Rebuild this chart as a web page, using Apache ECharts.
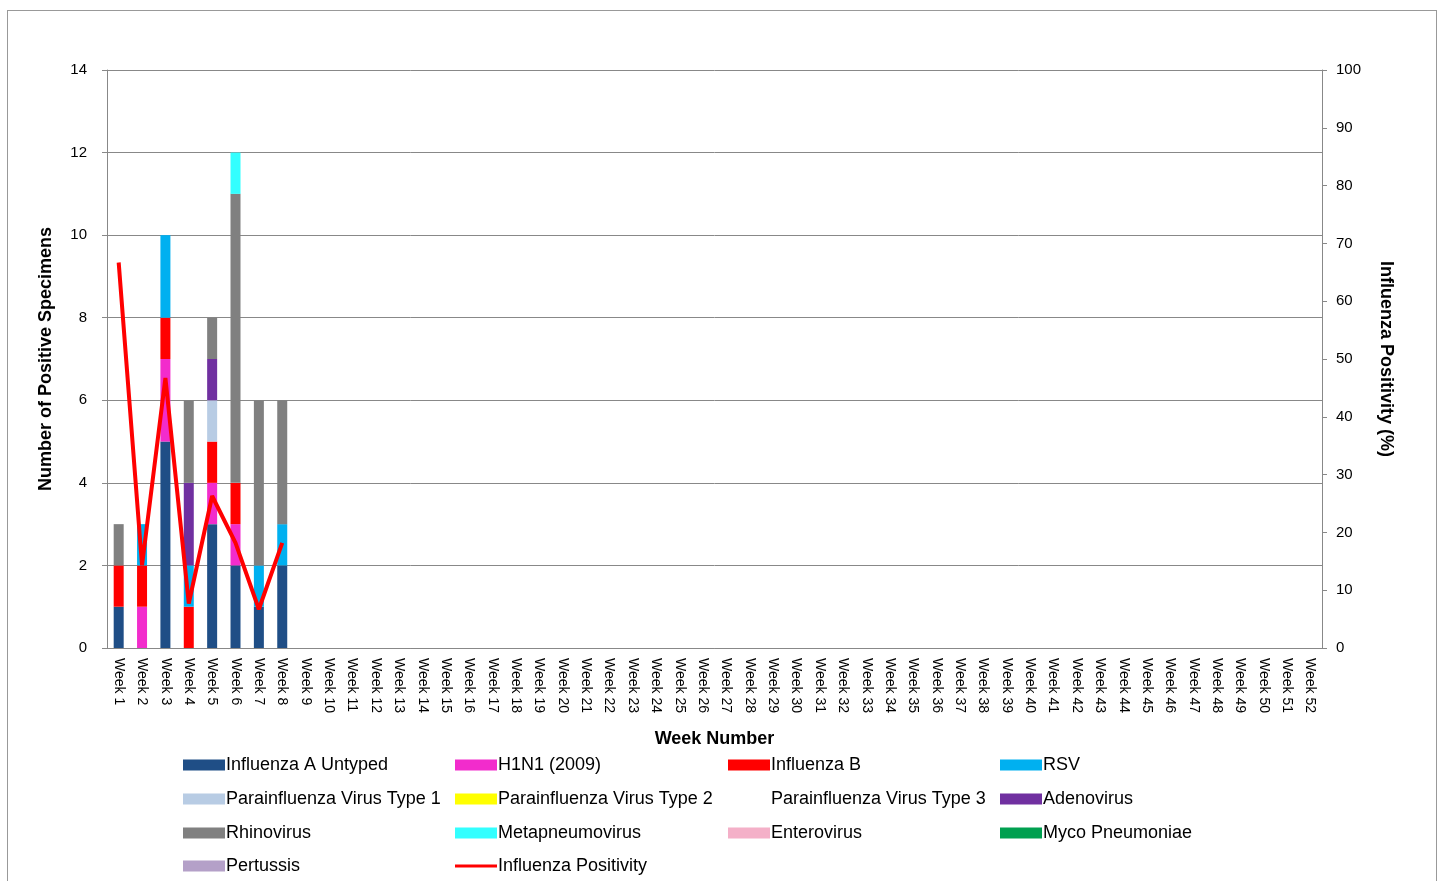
<!DOCTYPE html>
<html><head><meta charset="utf-8">
<script src="https://cdn.jsdelivr.net/npm/echarts@6/dist/echarts.min.js"></script>
<style>html,body{margin:0;padding:0;background:#fff}#main{width:1441px;height:881px}
#frame{position:absolute;left:7px;top:10px;width:1430px;height:880px;border:1px solid #999;box-sizing:border-box;pointer-events:none}</style>
</head><body><div id="main"></div><div id="frame"></div>
<script>
const weeks = Array.from({length: 52}, (_, i) => 'Week ' + (i + 1))
const fluA = [1, 0, 5, 0, 3, 2, 1, 2]
const h1n1 = [0, 1, 2, 0, 1, 1, 0, 0]
const fluB = [1, 1, 1, 1, 1, 1, 0, 0]
const rsv = [0, 1, 2, 1, 0, 0, 1, 1]
const para1 = [0, 0, 0, 0, 1, 0, 0, 0]
const para2 = [0, 0, 0, 0, 0, 0, 0, 0]
const para3 = [0, 0, 0, 0, 0, 0, 0, 0]
const adeno = [0, 0, 0, 2, 1, 0, 0, 0]
const rhino = [1, 0, 0, 2, 1, 7, 4, 3]
const metap = [0, 0, 0, 0, 0, 1, 0, 0]
const entero = [0, 0, 0, 0, 0, 0, 0, 0]
const myco = [0, 0, 0, 0, 0, 0, 0, 0]
const pertussis = [0, 0, 0, 0, 0, 0, 0, 0]
const positivity = [66.7, 14.3, 46.7, 7.7, 26.3, 18.2, 6.7, 18.2]

const bars = [
  ['Influenza A Untyped', fluA, '#1f4e86'],
  ['H1N1 (2009)', h1n1, '#f22ccc'],
  ['Influenza B', fluB, '#ff0000'],
  ['RSV', rsv, '#00b0f0'],
  ['Parainfluenza Virus Type 1', para1, '#b8cce4'],
  ['Parainfluenza Virus Type 2', para2, '#ffff00'],
  ['Parainfluenza Virus Type 3', para3, '#ffffff'],
  ['Adenovirus', adeno, '#7030a0'],
  ['Rhinovirus', rhino, '#808080'],
  ['Metapneumovirus', metap, '#33ffff'],
  ['Enterovirus', entero, '#f4b0c8'],
  ['Myco Pneumoniae', myco, '#00a050'],
  ['Pertussis', pertussis, '#b4a0c8']
]
const legendNames = bars.map(b => b[0]).concat(['Influenza Positivity'])
const colX = [183, 455, 728, 1000]
const rowY = [756, 790, 824, 857]
const font = 'Liberation Sans, Arial, sans-serif'

let myChart = echarts.init(document.getElementById('main'))
let option = {
  animation: false,
  textStyle: {fontFamily: font},
  grid: {left: 107, right: 119, top: 70, bottom: 233},
  legend: legendNames.map((n, i) => ({
    data: [{name: n, icon: n === 'Influenza Positivity' ? 'path://M0,4L42,4L42,7L0,7Z' : 'rect'}],
    left: colX[i % 4], top: rowY[Math.floor(i / 4)], itemWidth: 42, itemHeight: 11, padding: 0,
    textStyle: {fontSize: 18, color: '#000', padding: [0, 0, 0, -4]}, selectedMode: false
  })),
  xAxis: {
    type: 'category', data: weeks, name: 'Week Number', nameLocation: 'middle', nameGap: 82,
    nameTextStyle: {fontSize: 18, fontWeight: 'bold', color: '#000'},
    axisLine: {lineStyle: {color: '#888'}}, axisTick: {lineStyle: {color: '#888'}},
    axisLabel: {rotate: -90, fontSize: 14, color: '#000', interval: 0, margin: 10}
  },
  yAxis: [{
    type: 'value', min: 0, max: 14, interval: 2, name: 'Number of Positive Specimens',
    nameLocation: 'middle', nameGap: 52, nameTextStyle: {fontSize: 18, fontWeight: 'bold', color: '#000'},
    axisLine: {show: true, lineStyle: {color: '#888'}}, axisTick: {show: true, inside: false},
    axisLabel: {fontSize: 15, color: '#000', margin: 20}, splitLine: {lineStyle: {color: '#888'}}
  }, {
    type: 'value', min: 0, max: 100, interval: 10, name: 'Influenza Positivity (%)',
    nameLocation: 'middle', nameGap: 55, nameRotate: -90, nameTextStyle: {fontSize: 18, fontWeight: 'bold', color: '#000'},
    axisLine: {show: true, lineStyle: {color: '#888'}}, axisTick: {show: true},
    axisLabel: {fontSize: 15, color: '#000', margin: 14}, splitLine: {show: false}
  }],
  series: bars.map(b => ({
    name: b[0], type: 'bar', stack: 'a', data: b[1], barWidth: 10,
    itemStyle: {color: b[2]}
  })).concat([{
    name: 'Influenza Positivity', type: 'line', yAxisIndex: 1, data: positivity,
    symbol: 'none', itemStyle: {color: '#ff0000'}, lineStyle: {color: '#ff0000', width: 4}
  }])
}
myChart.setOption(option)
</script></body></html>
